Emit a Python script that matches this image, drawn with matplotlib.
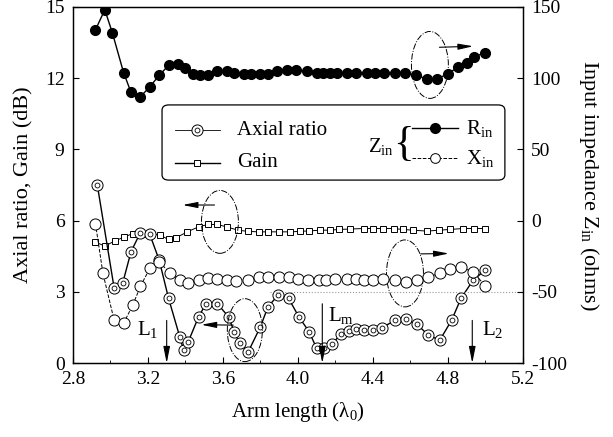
import matplotlib
matplotlib.use("Agg")
import matplotlib.pyplot as plt
from matplotlib.patches import Ellipse, FancyBboxPatch
from matplotlib.ticker import MultipleLocator

plt.rcParams['font.family'] = ['Liberation Serif', 'DejaVu Serif']
plt.rcParams['mathtext.fontset'] = 'custom'
plt.rcParams['mathtext.rm'] = 'Liberation Serif'
plt.rcParams['mathtext.it'] = 'Liberation Serif:italic'
plt.rcParams['axes.unicode_minus'] = False

# axial ratio (dB), left axis
ar_x = [2.93, 3.02, 3.065, 3.11, 3.16, 3.21, 3.26, 3.31, 3.37, 3.39, 3.415, 3.47,
        3.51, 3.57, 3.63, 3.66, 3.69, 3.735, 3.80, 3.84, 3.895, 3.95, 4.005, 4.06,
        4.10, 4.14, 4.18, 4.23, 4.27, 4.31, 4.35, 4.40, 4.45, 4.52, 4.575, 4.635,
        4.695, 4.757, 4.82, 4.87, 4.935, 5.00]
ar_y = [7.5, 3.15, 3.36, 4.7, 5.5, 5.42, 4.34, 2.73, 1.1, 0.55, 0.9, 1.95,
        2.51, 2.51, 1.95, 1.32, 0.83, 0.48, 1.53, 2.37, 2.87, 2.73, 1.95, 1.32,
        0.62, 0.62, 0.8, 1.22, 1.35, 1.42, 1.4, 1.4, 1.5, 1.81, 1.84, 1.64,
        1.18, 0.97, 1.81, 2.73, 3.5, 3.92]

# gain (dB), left axis
gain_x = [2.917, 2.97, 3.024, 3.07, 3.12, 3.166, 3.21, 3.264, 3.31, 3.35, 3.41, 3.47,
          3.52, 3.57, 3.62, 3.68, 3.735, 3.79, 3.84, 3.90, 3.96, 4.01, 4.06, 4.12,
          4.17, 4.22, 4.28, 4.35, 4.40, 4.455, 4.51, 4.56, 4.615, 4.69, 4.75, 4.81,
          4.88, 4.94, 5.00]
gain_y = [5.11, 4.93, 5.15, 5.30, 5.46, 5.46, 5.46, 5.39, 5.21, 5.28, 5.53, 5.74,
          5.84, 5.84, 5.74, 5.60, 5.55, 5.53, 5.53, 5.53, 5.53, 5.55, 5.57, 5.60,
          5.60, 5.63, 5.65, 5.67, 5.67, 5.67, 5.67, 5.63, 5.60, 5.56, 5.60, 5.63,
          5.67, 5.67, 5.67]

# input resistance (ohms), right axis
rin_x = [2.92, 2.97, 3.01, 3.07, 3.11, 3.16, 3.21, 3.26, 3.31, 3.36, 3.40, 3.44,
         3.48, 3.52, 3.57, 3.62, 3.66, 3.71, 3.75, 3.80, 3.84, 3.89, 3.94, 3.99,
         4.05, 4.10, 4.135, 4.17, 4.21, 4.26, 4.31, 4.37, 4.41, 4.46, 4.52, 4.57,
         4.63, 4.69, 4.74, 4.80, 4.855, 4.90, 4.94, 5.00]
rin_y = [134, 148, 132, 104, 90, 87, 94, 102, 109, 110, 107, 103,
         102, 102, 105, 105, 104, 103, 103, 103, 103, 105, 106, 106,
         105, 104, 104, 104, 104, 104, 104, 104, 104, 104, 104, 104,
         102, 99.5, 99.5, 103, 108, 111, 115, 118]

# input reactance (ohms), right axis
xin_x = [2.92, 2.96, 3.02, 3.07, 3.12, 3.16, 3.21, 3.26, 3.32, 3.37, 3.415, 3.47,
         3.52, 3.57, 3.62, 3.67, 3.735, 3.79, 3.84, 3.90, 3.95, 4.00, 4.055, 4.11,
         4.15, 4.20, 4.26, 4.31, 4.35, 4.40, 4.455, 4.52, 4.575, 4.636, 4.695, 4.757,
         4.81, 4.87, 4.935, 5.00]
xin_y = [-2, -37, -70, -72, -59, -46, -33.5, -29, -37, -41.7, -43.6, -41.7,
         -40.5, -41.2, -41.7, -42.2, -41.7, -39.8, -39.4, -39.4, -39.4, -41.2, -41.7, -41.7,
         -41.7, -41.2, -41.2, -41.2, -41.7, -41.7, -41.2, -41.7, -43, -41.7, -39.4, -37,
         -34.2, -32.8, -35.9, -46]

x_ticks = [2.8, 3.2, 3.6, 4.0, 4.4, 4.8, 5.2]
left_ticks = [0, 3, 6, 9, 12, 15]
right_ticks = [-100, -50, 0, 50, 100, 150]

# characteristic lengths: (x, arrow top on left axis, label, label x, label y)
marks = [(3.30, 1.8, 'L$_1$', 3.14, 1.4),
         (4.13, 2.5, 'L$_{\\rm m}$', 4.16, 2.0),
         (4.93, 1.8, 'L$_2$', 4.98, 1.4)]

fig = plt.figure(figsize=(6.13, 4.37), dpi=100)
ax = fig.add_axes([0.119, 0.169, 0.734, 0.815])
ax2 = ax.twinx()

ax.plot(gain_x, gain_y, '-', color='black', lw=0.7, marker='s', ms=5,
        mfc='white', mec='black', mew=0.7, zorder=3)
ax.plot(ar_x, ar_y, '-', color='black', lw=1.0, marker='o', ms=8,
        mfc='white', mec='black', mew=0.7, zorder=4)
ax.plot(ar_x, ar_y, 'none', marker='o', ms=3.5, mfc='white', mec='black',
        mew=0.6, zorder=5)

ax2.plot(xin_x, xin_y, '--', color='black', lw=0.7, marker='o', ms=8,
         mfc='white', mec='black', mew=0.7, zorder=3)
ax2.plot(rin_x, rin_y, '-', color='black', lw=1.0, marker='o', ms=7,
         mfc='black', mec='black', zorder=4)
ax2.plot([3.85, 5.2], [-50, -50], ':', color='0.6', lw=0.8, zorder=1)

ax.set_xlim(2.8, 5.2)
ax.set_ylim(0, 15)
ax2.set_ylim(-100, 150)
ax.set_xticks(x_ticks)
ax.set_xticklabels(['%.1f' % v for v in x_ticks])
ax.xaxis.set_minor_locator(MultipleLocator(0.2))
ax.set_yticks(left_ticks)
ax2.set_yticks(right_ticks)

for a in (ax, ax2):
    a.tick_params(which='major', direction='in', length=4, width=0.8,
                  labelsize=14, pad=6)
    a.tick_params(which='minor', direction='in', length=2, width=0.6)
    for s in a.spines.values():
        s.set_linewidth(0.9)
ax.tick_params(axis='x', top=False)

ax.set_xlabel('Arm length (λ$_0$)', fontsize=15, labelpad=8)
ax.set_ylabel('Axial ratio, Gain (dB)', fontsize=16, labelpad=8)
ax2.set_ylabel('Input impedance Z$_{\\rm in}$ (ohms)', fontsize=16,
               rotation=270, labelpad=24)

# dash-dot ellipses with direction arrows pointing to the relevant axis
ellipses = [(4.704, 12.56, 0.197, 2.82), (3.584, 5.95, 0.197, 2.65),
            (4.571, 3.78, 0.197, 2.82), (3.717, 1.39, 0.187, 2.65)]
for cx, cy, w, h in ellipses:
    ax.add_patch(Ellipse((cx, cy), w, h, fill=False, ls='-.', lw=0.7,
                         ec='black', zorder=6))
arrows = [((4.74, 13.3), (4.95, 13.35)), ((3.57, 6.66), (3.37, 6.66)),
          ((4.64, 4.6), (4.82, 4.62)), ((3.67, 1.6), (3.47, 1.62))]
for (x0, y0), (x1, y1) in arrows:
    ax.annotate('', xy=(x1, y1), xytext=(x0, y0),
                arrowprops=dict(arrowstyle='-|>,head_length=0.9,head_width=0.18',
                                color='black', lw=0.8), zorder=7)

for xm, ytop, lab, lx, ly in marks:
    ax.annotate('', xy=(xm, 0.0), xytext=(xm, ytop),
                arrowprops=dict(arrowstyle='-|>,head_length=1.0,head_width=0.2',
                                color='black', lw=0.8, shrinkA=0, shrinkB=0),
                zorder=7)
    ax.text(lx, ly, lab, fontsize=15, ha='left', va='center')

# legend panel
box = FancyBboxPatch((0.198, 0.514), 0.762, 0.211, transform=ax2.transAxes,
                     boxstyle='round,pad=0,rounding_size=0.015',
                     fc='white', ec='black', lw=0.9, zorder=10)
ax2.add_patch(box)
tr = ax2.transAxes
ax2.plot([0.227, 0.327], [0.654, 0.654], '-', color='black', lw=0.6,
         transform=tr, zorder=11)
ax2.plot([0.276], [0.654], 'none', marker='o', ms=8, mfc='white', mec='black',
         mew=0.7, transform=tr, zorder=12)
ax2.plot([0.276], [0.654], 'none', marker='o', ms=3.5, mfc='white', mec='black',
         mew=0.6, transform=tr, zorder=13)
ax2.text(0.364, 0.654, 'Axial ratio', fontsize=15, va='center', transform=tr,
         zorder=12)
ax2.plot([0.227, 0.327], [0.562, 0.562], '-', color='black', lw=1.0,
         transform=tr, zorder=11)
ax2.plot([0.276], [0.562], 'none', marker='s', ms=5, mfc='white', mec='black',
         mew=0.7, transform=tr, zorder=12)
ax2.text(0.364, 0.562, 'Gain', fontsize=15, va='center', transform=tr,
         zorder=12)
ax2.text(0.655, 0.607, 'Z$_{\\rm in}$', fontsize=15, va='center', transform=tr,
         zorder=12)
ax2.text(0.712, 0.612, '{', fontsize=31, va='center', transform=tr, zorder=12)
ax2.plot([0.753, 0.856], [0.66, 0.66], '-', color='black', lw=1.0,
         transform=tr, zorder=11)
ax2.plot([0.804], [0.66], 'none', marker='o', ms=7, mfc='black', mec='black',
         transform=tr, zorder=12)
ax2.text(0.873, 0.66, 'R$_{\\rm in}$', fontsize=15, va='center', transform=tr,
         zorder=12)
ax2.plot([0.753, 0.856], [0.576, 0.576], '--', color='black', lw=0.7,
         transform=tr, zorder=11)
ax2.plot([0.804], [0.576], 'none', marker='o', ms=7, mfc='white', mec='black',
         mew=0.7, transform=tr, zorder=12)
ax2.text(0.873, 0.576, 'X$_{\\rm in}$', fontsize=15, va='center', transform=tr,
         zorder=12)

fig.savefig('out.png', dpi=100)
